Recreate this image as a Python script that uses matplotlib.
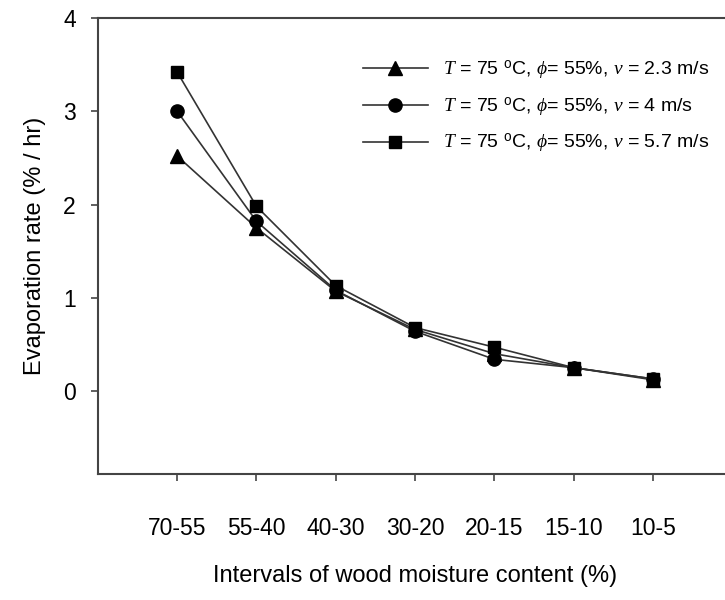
import numpy as np
import matplotlib.pyplot as plt

plt.rcParams['font.family'] = ['Liberation Sans', 'DejaVu Sans']
plt.rcParams['mathtext.fontset'] = 'custom'
plt.rcParams['mathtext.rm'] = 'Liberation Sans'
plt.rcParams['mathtext.it'] = 'Liberation Serif:italic'

# data
intervals = ["70-55", "55-40", "40-30", "30-20", "20-15", "15-10", "10-5"]
rate_v23 = [2.52, 1.75, 1.07, 0.66, 0.40, 0.25, 0.12]
rate_v4 = [3.00, 1.82, 1.08, 0.64, 0.34, 0.25, 0.13]
rate_v57 = [3.42, 1.98, 1.13, 0.68, 0.47, 0.25, 0.13]

labels = [r"$T$ = 75 $^{\rm o}$C, $\phi$= 55%, $v$ = 2.3 m/s",
          r"$T$ = 75 $^{\rm o}$C, $\phi$= 55%, $v$ = 4 m/s",
          r"$T$ = 75 $^{\rm o}$C, $\phi$= 55%, $v$ = 5.7 m/s"]

fig = plt.figure(figsize=(7.25, 6), dpi=100)
ax = fig.add_axes([0.135, 0.21, 0.875, 0.76])

x = np.arange(len(intervals))
lc = "#333333"
ax.plot(x, rate_v23, color=lc, lw=1.2, marker="^", ms=9.5, mfc="black", mec="black", label=labels[0])
ax.plot(x, rate_v4, color=lc, lw=1.2, marker="o", ms=9.5, mfc="black", mec="black", label=labels[1])
ax.plot(x, rate_v57, color=lc, lw=1.2, marker="s", ms=8.5, mfc="black", mec="black", label=labels[2])

ax.set_xlim(-1, 7)
ax.set_ylim(-0.89, 4)
ax.set_xticks(x)
ax.set_xticklabels(intervals)
ax.set_yticks([0, 1, 2, 3, 4])

for s in ax.spines.values():
    s.set_color("#444444")
    s.set_linewidth(1.5)

ax.tick_params(axis="x", direction="out", length=5, width=1.2, color="#444444", pad=26, labelsize=16.5)
ax.tick_params(axis="y", direction="out", length=5, width=1.2, color="#444444", pad=11, labelsize=16.5)

ax.set_xlabel("Intervals of wood moisture content (%)", fontsize=17, labelpad=18)
ax.set_ylabel("Evaporation rate (% / hr)", fontsize=17, labelpad=12)

ax.legend(loc="upper left", bbox_to_anchor=(0.39, 0.95), frameon=False, fontsize=14,
          handlelength=3.35, handletextpad=0.75, labelspacing=0.7)

fig.savefig("out.png", dpi=100)
